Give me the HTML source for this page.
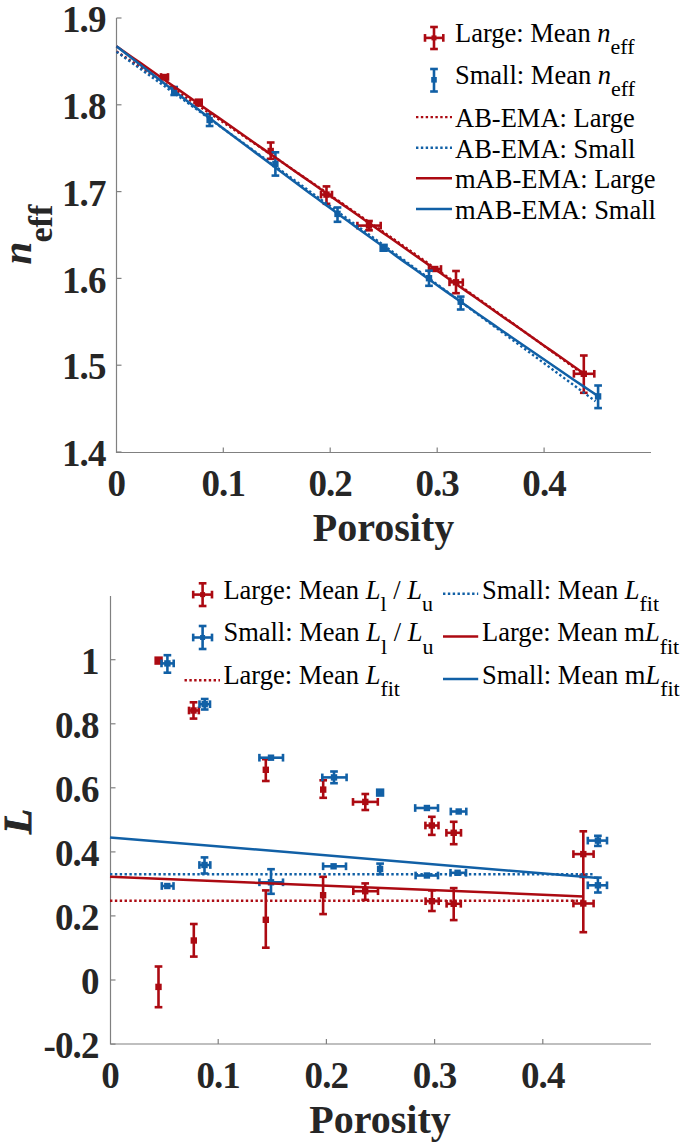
<!DOCTYPE html><html><head><meta charset="utf-8"><style>html,body{margin:0;padding:0;background:#fff;overflow:hidden}svg{display:block}text{font-family:"Liberation Serif",serif}</style></head><body>
<svg width="685" height="1145" viewBox="0 0 685 1145">
<rect width="685" height="1145" fill="#fff"/>
<g stroke="#808080" stroke-width="1.2" fill="none">
<path d="M116.5 18 V452.5 H651"/>
<line x1="116.5" y1="18.0" x2="121.5" y2="18.0"/>
<line x1="116.5" y1="104.8" x2="121.5" y2="104.8"/>
<line x1="116.5" y1="191.6" x2="121.5" y2="191.6"/>
<line x1="116.5" y1="278.4" x2="121.5" y2="278.4"/>
<line x1="116.5" y1="365.2" x2="121.5" y2="365.2"/>
<line x1="116.5" y1="452.0" x2="121.5" y2="452.0"/>
<line x1="223.3" y1="452.5" x2="223.3" y2="447.5"/>
<line x1="330.2" y1="452.5" x2="330.2" y2="447.5"/>
<line x1="437.2" y1="452.5" x2="437.2" y2="447.5"/>
<line x1="544.1" y1="452.5" x2="544.1" y2="447.5"/>
</g>
<g font-size="37" font-weight="bold" fill="#262626" text-anchor="end" letter-spacing="-0.9">
<text x="105.5" y="32.1">1.9</text>
<text x="105.5" y="118.9">1.8</text>
<text x="105.5" y="205.7">1.7</text>
<text x="105.5" y="292.5">1.6</text>
<text x="105.5" y="379.3">1.5</text>
<text x="105.5" y="466.1">1.4</text>
</g>
<g font-size="37" font-weight="bold" fill="#262626" text-anchor="middle" letter-spacing="-0.9">
<text x="116.4" y="496">0</text>
<text x="223.3" y="496">0.1</text>
<text x="330.2" y="496">0.2</text>
<text x="437.2" y="496">0.3</text>
<text x="544.1" y="496">0.4</text>
</g>
<text x="383.5" y="541" font-size="40" font-weight="bold" fill="#262626" text-anchor="middle">Porosity</text>
<g transform="translate(31,264.5) rotate(-90)" fill="#262626" font-weight="bold"><text x="0" y="0" font-size="41" font-style="italic">n</text><text x="22" y="20.5" font-size="34">eff</text></g>
<g stroke="#AC0A12" stroke-width="2.6" fill="none"><line x1="161" y1="77" x2="168" y2="77"/><line x1="161" y1="73.15" x2="161" y2="80.85"/><line x1="168" y1="73.15" x2="168" y2="80.85"/></g>
<rect x="161.20000000000002" y="73.8" width="6.4" height="6.4" fill="#AC0A12"/>
<g stroke="#AC0A12" stroke-width="2.6" fill="none"></g>
<rect x="194.60000000000002" y="98.39999999999999" width="8.4" height="8.4" fill="#AC0A12"/>
<g stroke="#AC0A12" stroke-width="2.6" fill="none"><line x1="270.7" y1="142.5" x2="270.7" y2="158.8"/><line x1="266.84999999999997" y1="142.5" x2="274.55" y2="142.5"/><line x1="266.84999999999997" y1="158.8" x2="274.55" y2="158.8"/></g>
<rect x="267.5" y="147.8" width="6.4" height="6.4" fill="#AC0A12"/>
<g stroke="#AC0A12" stroke-width="2.6" fill="none"><line x1="326.5" y1="186.4" x2="326.5" y2="203.8"/><line x1="322.65" y1="186.4" x2="330.35" y2="186.4"/><line x1="322.65" y1="203.8" x2="330.35" y2="203.8"/><line x1="321" y1="194.6" x2="332" y2="194.6"/><line x1="321" y1="190.75" x2="321" y2="198.45"/><line x1="332" y1="190.75" x2="332" y2="198.45"/></g>
<rect x="323.3" y="191.4" width="6.4" height="6.4" fill="#AC0A12"/>
<g stroke="#AC0A12" stroke-width="2.6" fill="none"><line x1="369" y1="221" x2="369" y2="230.3"/><line x1="365.15" y1="221" x2="372.85" y2="221"/><line x1="365.15" y1="230.3" x2="372.85" y2="230.3"/><line x1="357.4" y1="225.6" x2="380.7" y2="225.6"/><line x1="357.4" y1="221.75" x2="357.4" y2="229.45"/><line x1="380.7" y1="221.75" x2="380.7" y2="229.45"/></g>
<rect x="365.8" y="222.4" width="6.4" height="6.4" fill="#AC0A12"/>
<g stroke="#AC0A12" stroke-width="2.6" fill="none"><line x1="429" y1="269" x2="441" y2="269"/><line x1="429" y1="265.15" x2="429" y2="272.85"/><line x1="441" y1="265.15" x2="441" y2="272.85"/></g>
<rect x="432.0" y="265.8" width="6.4" height="6.4" fill="#AC0A12"/>
<g stroke="#AC0A12" stroke-width="2.6" fill="none"><line x1="456" y1="271" x2="456" y2="293.2"/><line x1="452.15" y1="271" x2="459.85" y2="271"/><line x1="452.15" y1="293.2" x2="459.85" y2="293.2"/><line x1="449.5" y1="282.3" x2="462.8" y2="282.3"/><line x1="449.5" y1="278.45" x2="449.5" y2="286.15000000000003"/><line x1="462.8" y1="278.45" x2="462.8" y2="286.15000000000003"/></g>
<rect x="452.8" y="279.1" width="6.4" height="6.4" fill="#AC0A12"/>
<g stroke="#AC0A12" stroke-width="2.6" fill="none"><line x1="583.8" y1="355.5" x2="583.8" y2="392.8"/><line x1="579.9499999999999" y1="355.5" x2="587.65" y2="355.5"/><line x1="579.9499999999999" y1="392.8" x2="587.65" y2="392.8"/><line x1="573.9" y1="373.8" x2="594.3" y2="373.8"/><line x1="573.9" y1="369.95" x2="573.9" y2="377.65000000000003"/><line x1="594.3" y1="369.95" x2="594.3" y2="377.65000000000003"/></g>
<rect x="580.5999999999999" y="370.6" width="6.4" height="6.4" fill="#AC0A12"/>
<g stroke="#1160A6" stroke-width="2.6" fill="none"><line x1="174.2" y1="87" x2="174.2" y2="95"/><line x1="170.35" y1="87" x2="178.04999999999998" y2="87"/><line x1="170.35" y1="95" x2="178.04999999999998" y2="95"/></g>
<rect x="171.0" y="88.1" width="6.4" height="6.4" fill="#1160A6"/>
<g stroke="#1160A6" stroke-width="2.6" fill="none"><line x1="209.6" y1="114" x2="209.6" y2="126"/><line x1="205.75" y1="114" x2="213.45" y2="114"/><line x1="205.75" y1="126" x2="213.45" y2="126"/></g>
<rect x="206.4" y="116.8" width="6.4" height="6.4" fill="#1160A6"/>
<g stroke="#1160A6" stroke-width="2.6" fill="none"><line x1="275.4" y1="152.3" x2="275.4" y2="175.6"/><line x1="271.54999999999995" y1="152.3" x2="279.25" y2="152.3"/><line x1="271.54999999999995" y1="175.6" x2="279.25" y2="175.6"/></g>
<rect x="272.2" y="160.8" width="6.4" height="6.4" fill="#1160A6"/>
<g stroke="#1160A6" stroke-width="2.6" fill="none"><line x1="337.5" y1="207.5" x2="337.5" y2="221.8"/><line x1="333.65" y1="207.5" x2="341.35" y2="207.5"/><line x1="333.65" y1="221.8" x2="341.35" y2="221.8"/></g>
<rect x="334.3" y="210.70000000000002" width="6.4" height="6.4" fill="#1160A6"/>
<g stroke="#1160A6" stroke-width="2.6" fill="none"></g>
<rect x="379.40000000000003" y="243.60000000000002" width="8.4" height="8.4" fill="#1160A6"/>
<g stroke="#1160A6" stroke-width="2.6" fill="none"><line x1="429" y1="270.7" x2="429" y2="285.8"/><line x1="425.15" y1="270.7" x2="432.85" y2="270.7"/><line x1="425.15" y1="285.8" x2="432.85" y2="285.8"/></g>
<rect x="425.8" y="275.0" width="6.4" height="6.4" fill="#1160A6"/>
<g stroke="#1160A6" stroke-width="2.6" fill="none"><line x1="460.7" y1="296.6" x2="460.7" y2="309.5"/><line x1="456.84999999999997" y1="296.6" x2="464.55" y2="296.6"/><line x1="456.84999999999997" y1="309.5" x2="464.55" y2="309.5"/></g>
<rect x="457.5" y="298.5" width="6.4" height="6.4" fill="#1160A6"/>
<g stroke="#1160A6" stroke-width="2.6" fill="none"><line x1="598.1" y1="385.5" x2="598.1" y2="408.1"/><line x1="594.25" y1="385.5" x2="601.95" y2="385.5"/><line x1="594.25" y1="408.1" x2="601.95" y2="408.1"/></g>
<rect x="594.9" y="393.2" width="6.4" height="6.4" fill="#1160A6"/>
<polyline points="116.50,51.42 124.29,56.53 132.08,61.66 139.87,66.79 147.65,71.94 155.44,77.09 163.23,82.25 171.02,87.42 178.81,92.60 186.59,97.79 194.38,102.99 202.17,108.20 209.96,113.41 217.75,118.64 225.54,123.88 233.32,129.12 241.11,134.38 248.90,139.64 256.69,144.91 264.48,150.19 272.27,155.48 280.05,160.78 287.84,166.09 295.63,171.41 303.42,176.74 311.21,182.07 319.00,187.42 326.78,192.77 334.57,198.14 342.36,203.51 350.15,208.89 357.94,214.28 365.73,219.69 373.51,225.10 381.30,230.51 389.09,235.94 396.88,241.38 404.67,246.83 412.46,252.28 420.24,257.75 428.03,263.22 435.82,268.71 443.61,274.20 451.40,279.70 459.19,285.21 466.97,290.73 474.76,296.26 482.55,301.80 490.34,307.35 498.13,312.90 505.92,318.47 513.70,324.05 521.49,329.63 529.28,335.22 537.07,340.83 544.86,346.44 552.65,352.06 560.43,357.69 568.22,363.33 576.01,368.98 583.80,374.64" fill="none" stroke="#AC0A12" stroke-width="2.4" stroke-dasharray="2.4 2.45"/>
<polyline points="116.50,51.72 124.48,57.44 132.47,63.18 140.45,68.91 148.43,74.65 156.42,80.39 164.40,86.14 172.38,91.88 180.37,97.64 188.35,103.39 196.33,109.15 204.32,114.91 212.30,120.68 220.28,126.44 228.27,132.22 236.25,137.99 244.23,143.77 252.22,149.55 260.20,155.34 268.18,161.12 276.17,166.92 284.15,172.71 292.13,178.51 300.12,184.31 308.10,190.12 316.08,195.92 324.07,201.74 332.05,207.55 340.03,213.37 348.02,219.19 356.00,225.02 363.98,230.84 371.97,236.68 379.95,242.51 387.93,248.35 395.92,254.19 403.90,260.04 411.88,265.88 419.87,271.74 427.85,277.59 435.83,283.45 443.82,289.31 451.80,295.18 459.78,301.04 467.77,306.92 475.75,312.79 483.73,318.67 491.72,324.55 499.70,330.44 507.68,336.32 515.67,342.22 523.65,348.11 531.63,354.01 539.62,359.91 547.60,365.82 555.58,371.72 563.57,377.64 571.55,383.55 579.53,389.47 587.52,395.39 595.50,401.31" fill="none" stroke="#1160A6" stroke-width="2.4" stroke-dasharray="2.4 2.45"/>
<polyline points="116.50,46.25 124.29,51.70 132.08,57.16 139.87,62.61 147.65,68.06 155.44,73.51 163.23,78.97 171.02,84.42 178.81,89.87 186.59,95.33 194.38,100.78 202.17,106.23 209.96,111.69 217.75,117.14 225.54,122.59 233.32,128.04 241.11,133.50 248.90,138.95 256.69,144.40 264.48,149.86 272.27,155.31 280.05,160.76 287.84,166.22 295.63,171.67 303.42,177.12 311.21,182.57 319.00,188.03 326.78,193.48 334.57,198.93 342.36,204.39 350.15,209.84 357.94,215.29 365.73,220.75 373.51,226.20 381.30,231.65 389.09,237.10 396.88,242.56 404.67,248.01 412.46,253.46 420.24,258.92 428.03,264.37 435.82,269.82 443.61,275.28 451.40,280.73 459.19,286.18 466.97,291.63 474.76,297.09 482.55,302.54 490.34,307.99 498.13,313.45 505.92,318.90 513.70,324.35 521.49,329.81 529.28,335.26 537.07,340.71 544.86,346.16 552.65,351.62 560.43,357.07 568.22,362.52 576.01,367.98 583.80,373.43" fill="none" stroke="#AC0A12" stroke-width="2.5"/>
<polyline points="116.50,46.31 124.53,52.58 132.55,58.83 140.58,65.07 148.61,71.29 156.63,77.50 164.66,83.69 172.69,89.87 180.71,96.04 188.74,102.19 196.77,108.32 204.79,114.44 212.82,120.54 220.85,126.63 228.87,132.71 236.90,138.77 244.93,144.81 252.95,150.85 260.98,156.86 269.01,162.86 277.03,168.85 285.06,174.82 293.09,180.78 301.11,186.72 309.14,192.64 317.17,198.56 325.19,204.45 333.22,210.34 341.25,216.20 349.27,222.06 357.30,227.89 365.33,233.72 373.35,239.53 381.38,245.32 389.41,251.10 397.43,256.86 405.46,262.61 413.49,268.35 421.51,274.06 429.54,279.77 437.57,285.46 445.59,291.13 453.62,296.79 461.65,302.44 469.67,308.07 477.70,313.69 485.73,319.29 493.75,324.87 501.78,330.44 509.81,336.00 517.83,341.54 525.86,347.07 533.89,352.58 541.91,358.08 549.94,363.56 557.97,369.03 565.99,374.48 574.02,379.92 582.05,385.34 590.07,390.75 598.10,396.14" fill="none" stroke="#1160A6" stroke-width="2.5"/>
<g stroke="#AC0A12" stroke-width="2.6" fill="none"><line x1="434" y1="27" x2="434" y2="49"/><line x1="430.15" y1="27" x2="437.85" y2="27"/><line x1="430.15" y1="49" x2="437.85" y2="49"/><line x1="425" y1="37.9" x2="443.3" y2="37.9"/><line x1="425" y1="34.05" x2="425" y2="41.75"/><line x1="443.3" y1="34.05" x2="443.3" y2="41.75"/></g>
<rect x="431.5" y="35.4" width="5.0" height="5.0" fill="#AC0A12"/>
<g stroke="#1160A6" stroke-width="2.6" fill="none"><line x1="434" y1="69" x2="434" y2="91.5"/><line x1="430.15" y1="69" x2="437.85" y2="69"/><line x1="430.15" y1="91.5" x2="437.85" y2="91.5"/></g>
<rect x="431.2" y="77.0" width="5.6" height="5.6" fill="#1160A6"/>
<g font-size="26.5" fill="#000">
<text x="455" y="41.5">Large: Mean <tspan font-style="italic">n</tspan><tspan font-size="22" dy="12.5">eff</tspan></text>
<text x="455" y="83.5">Small: Mean <tspan font-style="italic">n</tspan><tspan font-size="22" dy="12.5">eff</tspan></text>
<text x="455" y="126.9">AB-EMA: Large</text>
<text x="455" y="157.5">AB-EMA: Small</text>
<text x="455" y="188.1">mAB-EMA: Large</text>
<text x="455" y="218.7">mAB-EMA: Small</text>
</g>
<line x1="416" y1="117.1" x2="452" y2="117.1" stroke="#AC0A12" stroke-width="2.4" stroke-dasharray="2.4 2.45"/>
<line x1="416" y1="147.7" x2="452" y2="147.7" stroke="#1160A6" stroke-width="2.4" stroke-dasharray="2.4 2.45"/>
<line x1="416" y1="178.3" x2="452" y2="178.3" stroke="#AC0A12" stroke-width="2.5"/>
<line x1="416" y1="208.9" x2="452" y2="208.9" stroke="#1160A6" stroke-width="2.5"/>
<g stroke="#808080" stroke-width="1.2" fill="none">
<path d="M110.5 596 V1044 H651"/>
<line x1="110.5" y1="659.7" x2="115.5" y2="659.7"/>
<line x1="110.5" y1="723.8" x2="115.5" y2="723.8"/>
<line x1="110.5" y1="787.8" x2="115.5" y2="787.8"/>
<line x1="110.5" y1="851.9" x2="115.5" y2="851.9"/>
<line x1="110.5" y1="915.9" x2="115.5" y2="915.9"/>
<line x1="110.5" y1="980.0" x2="115.5" y2="980.0"/>
<line x1="110.5" y1="1044.1" x2="115.5" y2="1044.1"/>
<line x1="218.2" y1="1044" x2="218.2" y2="1039"/>
<line x1="326.4" y1="1044" x2="326.4" y2="1039"/>
<line x1="434.6" y1="1044" x2="434.6" y2="1039"/>
<line x1="542.8" y1="1044" x2="542.8" y2="1039"/>
</g>
<g font-size="37" font-weight="bold" fill="#262626" text-anchor="end" letter-spacing="-0.9">
<text x="98.5" y="673.5">1</text>
<text x="98.5" y="737.6">0.8</text>
<text x="98.5" y="801.6">0.6</text>
<text x="98.5" y="865.7">0.4</text>
<text x="98.5" y="929.7">0.2</text>
<text x="98.5" y="993.8">0</text>
<text x="98.5" y="1057.9">-0.2</text>
</g>
<g font-size="37" font-weight="bold" fill="#262626" text-anchor="middle" letter-spacing="-0.9">
<text x="110.0" y="1088">0</text>
<text x="218.2" y="1088">0.1</text>
<text x="326.4" y="1088">0.2</text>
<text x="434.6" y="1088">0.3</text>
<text x="542.8" y="1088">0.4</text>
</g>
<text x="380" y="1132.5" font-size="40" font-weight="bold" fill="#262626" text-anchor="middle">Porosity</text>
<g transform="translate(31,834) rotate(-90)" fill="#262626" font-weight="bold"><text x="0" y="0" font-size="41" font-style="italic" stroke="#262626" stroke-width="0.9">L</text></g>
<g stroke="#AC0A12" stroke-width="2.6" fill="none"></g>
<rect x="154.4" y="656.4" width="8.4" height="8.4" fill="#AC0A12"/>
<g stroke="#AC0A12" stroke-width="2.6" fill="none"><line x1="193.5" y1="702.3" x2="193.5" y2="718.6"/><line x1="189.65" y1="702.3" x2="197.35" y2="702.3"/><line x1="189.65" y1="718.6" x2="197.35" y2="718.6"/><line x1="189" y1="710.5" x2="198.8" y2="710.5"/><line x1="189" y1="706.65" x2="189" y2="714.35"/><line x1="198.8" y1="706.65" x2="198.8" y2="714.35"/></g>
<rect x="190.3" y="707.3" width="6.4" height="6.4" fill="#AC0A12"/>
<g stroke="#AC0A12" stroke-width="2.6" fill="none"><line x1="265.8" y1="759.2" x2="265.8" y2="781"/><line x1="261.95" y1="759.2" x2="269.65000000000003" y2="759.2"/><line x1="261.95" y1="781" x2="269.65000000000003" y2="781"/></g>
<rect x="262.6" y="766.5999999999999" width="6.4" height="6.4" fill="#AC0A12"/>
<g stroke="#AC0A12" stroke-width="2.6" fill="none"><line x1="323.2" y1="780.3" x2="323.2" y2="797.8"/><line x1="319.34999999999997" y1="780.3" x2="327.05" y2="780.3"/><line x1="319.34999999999997" y1="797.8" x2="327.05" y2="797.8"/></g>
<rect x="320.0" y="786.4" width="6.4" height="6.4" fill="#AC0A12"/>
<g stroke="#AC0A12" stroke-width="2.6" fill="none"><line x1="365.3" y1="794" x2="365.3" y2="810"/><line x1="361.45" y1="794" x2="369.15000000000003" y2="794"/><line x1="361.45" y1="810" x2="369.15000000000003" y2="810"/><line x1="353" y1="801.9" x2="377.8" y2="801.9"/><line x1="353" y1="798.05" x2="353" y2="805.75"/><line x1="377.8" y1="798.05" x2="377.8" y2="805.75"/></g>
<rect x="362.1" y="798.6999999999999" width="6.4" height="6.4" fill="#AC0A12"/>
<g stroke="#AC0A12" stroke-width="2.6" fill="none"><line x1="431.8" y1="816.8" x2="431.8" y2="834.9"/><line x1="427.95" y1="816.8" x2="435.65000000000003" y2="816.8"/><line x1="427.95" y1="834.9" x2="435.65000000000003" y2="834.9"/><line x1="425.4" y1="825.5" x2="438.5" y2="825.5"/><line x1="425.4" y1="821.65" x2="425.4" y2="829.35"/><line x1="438.5" y1="821.65" x2="438.5" y2="829.35"/></g>
<rect x="428.6" y="822.3" width="6.4" height="6.4" fill="#AC0A12"/>
<g stroke="#AC0A12" stroke-width="2.6" fill="none"><line x1="453.7" y1="821.8" x2="453.7" y2="844.2"/><line x1="449.84999999999997" y1="821.8" x2="457.55" y2="821.8"/><line x1="449.84999999999997" y1="844.2" x2="457.55" y2="844.2"/><line x1="446.4" y1="832.8" x2="461" y2="832.8"/><line x1="446.4" y1="828.9499999999999" x2="446.4" y2="836.65"/><line x1="461" y1="828.9499999999999" x2="461" y2="836.65"/></g>
<rect x="450.5" y="829.5999999999999" width="6.4" height="6.4" fill="#AC0A12"/>
<g stroke="#AC0A12" stroke-width="2.6" fill="none"><line x1="583.3" y1="831.3" x2="583.3" y2="877"/><line x1="579.4499999999999" y1="831.3" x2="587.15" y2="831.3"/><line x1="579.4499999999999" y1="877" x2="587.15" y2="877"/><line x1="573.4" y1="854.1" x2="593.6" y2="854.1"/><line x1="573.4" y1="850.25" x2="573.4" y2="857.95"/><line x1="593.6" y1="850.25" x2="593.6" y2="857.95"/></g>
<rect x="580.0999999999999" y="850.9" width="6.4" height="6.4" fill="#AC0A12"/>
<g stroke="#AC0A12" stroke-width="2.6" fill="none"><line x1="158.5" y1="966.5" x2="158.5" y2="1007.2"/><line x1="154.65" y1="966.5" x2="162.35" y2="966.5"/><line x1="154.65" y1="1007.2" x2="162.35" y2="1007.2"/></g>
<rect x="155.3" y="983.6999999999999" width="6.4" height="6.4" fill="#AC0A12"/>
<g stroke="#AC0A12" stroke-width="2.6" fill="none"><line x1="193.8" y1="924" x2="193.8" y2="956.6"/><line x1="189.95000000000002" y1="924" x2="197.65" y2="924"/><line x1="189.95000000000002" y1="956.6" x2="197.65" y2="956.6"/></g>
<rect x="190.60000000000002" y="937.3" width="6.4" height="6.4" fill="#AC0A12"/>
<g stroke="#AC0A12" stroke-width="2.6" fill="none"><line x1="265.8" y1="890.4" x2="265.8" y2="947.7"/><line x1="261.95" y1="890.4" x2="269.65000000000003" y2="890.4"/><line x1="261.95" y1="947.7" x2="269.65000000000003" y2="947.7"/></g>
<rect x="262.6" y="916.5999999999999" width="6.4" height="6.4" fill="#AC0A12"/>
<g stroke="#AC0A12" stroke-width="2.6" fill="none"><line x1="323.1" y1="876.8" x2="323.1" y2="914.1"/><line x1="319.25" y1="876.8" x2="326.95000000000005" y2="876.8"/><line x1="319.25" y1="914.1" x2="326.95000000000005" y2="914.1"/></g>
<rect x="319.90000000000003" y="892.0" width="6.4" height="6.4" fill="#AC0A12"/>
<g stroke="#AC0A12" stroke-width="2.6" fill="none"><line x1="365.2" y1="883.4" x2="365.2" y2="899.9"/><line x1="361.34999999999997" y1="883.4" x2="369.05" y2="883.4"/><line x1="361.34999999999997" y1="899.9" x2="369.05" y2="899.9"/><line x1="353.3" y1="891.2" x2="378" y2="891.2"/><line x1="353.3" y1="887.35" x2="353.3" y2="895.0500000000001"/><line x1="378" y1="887.35" x2="378" y2="895.0500000000001"/></g>
<rect x="362.0" y="888.0" width="6.4" height="6.4" fill="#AC0A12"/>
<g stroke="#AC0A12" stroke-width="2.6" fill="none"><line x1="431.9" y1="890.4" x2="431.9" y2="911"/><line x1="428.04999999999995" y1="890.4" x2="435.75" y2="890.4"/><line x1="428.04999999999995" y1="911" x2="435.75" y2="911"/><line x1="425.6" y1="901.2" x2="438.7" y2="901.2"/><line x1="425.6" y1="897.35" x2="425.6" y2="905.0500000000001"/><line x1="438.7" y1="897.35" x2="438.7" y2="905.0500000000001"/></g>
<rect x="428.7" y="898.0" width="6.4" height="6.4" fill="#AC0A12"/>
<g stroke="#AC0A12" stroke-width="2.6" fill="none"><line x1="453.7" y1="888.1" x2="453.7" y2="920.1"/><line x1="449.84999999999997" y1="888.1" x2="457.55" y2="888.1"/><line x1="449.84999999999997" y1="920.1" x2="457.55" y2="920.1"/><line x1="446.6" y1="903.8" x2="460.8" y2="903.8"/><line x1="446.6" y1="899.9499999999999" x2="446.6" y2="907.65"/><line x1="460.8" y1="899.9499999999999" x2="460.8" y2="907.65"/></g>
<rect x="450.5" y="900.5999999999999" width="6.4" height="6.4" fill="#AC0A12"/>
<g stroke="#AC0A12" stroke-width="2.6" fill="none"><line x1="583.3" y1="875" x2="583.3" y2="932.2"/><line x1="579.4499999999999" y1="875" x2="587.15" y2="875"/><line x1="579.4499999999999" y1="932.2" x2="587.15" y2="932.2"/><line x1="573.4" y1="903.5" x2="593.6" y2="903.5"/><line x1="573.4" y1="899.65" x2="573.4" y2="907.35"/><line x1="593.6" y1="899.65" x2="593.6" y2="907.35"/></g>
<rect x="580.0999999999999" y="900.3" width="6.4" height="6.4" fill="#AC0A12"/>
<g stroke="#1160A6" stroke-width="2.6" fill="none"><line x1="167.4" y1="655.2" x2="167.4" y2="672.7"/><line x1="163.55" y1="655.2" x2="171.25" y2="655.2"/><line x1="163.55" y1="672.7" x2="171.25" y2="672.7"/><line x1="161.5" y1="663.4" x2="173.7" y2="663.4"/><line x1="161.5" y1="659.55" x2="161.5" y2="667.25"/><line x1="173.7" y1="659.55" x2="173.7" y2="667.25"/></g>
<rect x="164.20000000000002" y="660.1999999999999" width="6.4" height="6.4" fill="#1160A6"/>
<g stroke="#1160A6" stroke-width="2.6" fill="none"><line x1="204.7" y1="699" x2="204.7" y2="709.5"/><line x1="200.85" y1="699" x2="208.54999999999998" y2="699"/><line x1="200.85" y1="709.5" x2="208.54999999999998" y2="709.5"/><line x1="199.5" y1="704.2" x2="210" y2="704.2"/><line x1="199.5" y1="700.35" x2="199.5" y2="708.0500000000001"/><line x1="210" y1="700.35" x2="210" y2="708.0500000000001"/></g>
<rect x="201.5" y="701.0" width="6.4" height="6.4" fill="#1160A6"/>
<g stroke="#1160A6" stroke-width="2.6" fill="none"><line x1="259.4" y1="757.7" x2="283" y2="757.7"/><line x1="259.4" y1="753.85" x2="259.4" y2="761.5500000000001"/><line x1="283" y1="753.85" x2="283" y2="761.5500000000001"/></g>
<rect x="267.8" y="754.5" width="6.4" height="6.4" fill="#1160A6"/>
<g stroke="#1160A6" stroke-width="2.6" fill="none"><line x1="334" y1="771.5" x2="334" y2="783.2"/><line x1="330.15" y1="771.5" x2="337.85" y2="771.5"/><line x1="330.15" y1="783.2" x2="337.85" y2="783.2"/><line x1="322.3" y1="777.4" x2="346.6" y2="777.4"/><line x1="322.3" y1="773.55" x2="322.3" y2="781.25"/><line x1="346.6" y1="773.55" x2="346.6" y2="781.25"/></g>
<rect x="330.8" y="774.1999999999999" width="6.4" height="6.4" fill="#1160A6"/>
<g stroke="#1160A6" stroke-width="2.6" fill="none"></g>
<rect x="375.90000000000003" y="788.4" width="8.4" height="8.4" fill="#1160A6"/>
<g stroke="#1160A6" stroke-width="2.6" fill="none"><line x1="415.2" y1="808" x2="438" y2="808"/><line x1="415.2" y1="804.15" x2="415.2" y2="811.85"/><line x1="438" y1="804.15" x2="438" y2="811.85"/></g>
<rect x="423.7" y="804.8" width="6.4" height="6.4" fill="#1160A6"/>
<g stroke="#1160A6" stroke-width="2.6" fill="none"><line x1="450.8" y1="811.5" x2="466.3" y2="811.5"/><line x1="450.8" y1="807.65" x2="450.8" y2="815.35"/><line x1="466.3" y1="807.65" x2="466.3" y2="815.35"/></g>
<rect x="455.5" y="808.3" width="6.4" height="6.4" fill="#1160A6"/>
<g stroke="#1160A6" stroke-width="2.6" fill="none"><line x1="597.9" y1="835.8" x2="597.9" y2="845.9"/><line x1="594.05" y1="835.8" x2="601.75" y2="835.8"/><line x1="594.05" y1="845.9" x2="601.75" y2="845.9"/><line x1="587.8" y1="840.6" x2="607" y2="840.6"/><line x1="587.8" y1="836.75" x2="587.8" y2="844.45"/><line x1="607" y1="836.75" x2="607" y2="844.45"/></g>
<rect x="594.6999999999999" y="837.4" width="6.4" height="6.4" fill="#1160A6"/>
<g stroke="#1160A6" stroke-width="2.6" fill="none"><line x1="161.8" y1="886" x2="173.5" y2="886"/><line x1="161.8" y1="882.15" x2="161.8" y2="889.85"/><line x1="173.5" y1="882.15" x2="173.5" y2="889.85"/></g>
<rect x="164.10000000000002" y="882.8" width="6.4" height="6.4" fill="#1160A6"/>
<g stroke="#1160A6" stroke-width="2.6" fill="none"><line x1="204.5" y1="857.4" x2="204.5" y2="873.5"/><line x1="200.65" y1="857.4" x2="208.35" y2="857.4"/><line x1="200.65" y1="873.5" x2="208.35" y2="873.5"/><line x1="199.4" y1="865" x2="210.3" y2="865"/><line x1="199.4" y1="861.15" x2="199.4" y2="868.85"/><line x1="210.3" y1="861.15" x2="210.3" y2="868.85"/></g>
<rect x="201.3" y="861.8" width="6.4" height="6.4" fill="#1160A6"/>
<g stroke="#1160A6" stroke-width="2.6" fill="none"><line x1="271" y1="869.2" x2="271" y2="893.8"/><line x1="267.15" y1="869.2" x2="274.85" y2="869.2"/><line x1="267.15" y1="893.8" x2="274.85" y2="893.8"/><line x1="259.4" y1="882.3" x2="283" y2="882.3"/><line x1="259.4" y1="878.4499999999999" x2="259.4" y2="886.15"/><line x1="283" y1="878.4499999999999" x2="283" y2="886.15"/></g>
<rect x="267.8" y="879.0999999999999" width="6.4" height="6.4" fill="#1160A6"/>
<g stroke="#1160A6" stroke-width="2.6" fill="none"><line x1="323.1" y1="866.3" x2="346" y2="866.3"/><line x1="323.1" y1="862.4499999999999" x2="323.1" y2="870.15"/><line x1="346" y1="862.4499999999999" x2="346" y2="870.15"/></g>
<rect x="330.40000000000003" y="863.0999999999999" width="6.4" height="6.4" fill="#1160A6"/>
<g stroke="#1160A6" stroke-width="2.6" fill="none"><line x1="380.1" y1="863.6" x2="380.1" y2="874.2"/><line x1="376.25" y1="863.6" x2="383.95000000000005" y2="863.6"/><line x1="376.25" y1="874.2" x2="383.95000000000005" y2="874.2"/></g>
<rect x="376.90000000000003" y="865.6999999999999" width="6.4" height="6.4" fill="#1160A6"/>
<g stroke="#1160A6" stroke-width="2.6" fill="none"><line x1="415.6" y1="875.5" x2="438" y2="875.5"/><line x1="415.6" y1="871.65" x2="415.6" y2="879.35"/><line x1="438" y1="871.65" x2="438" y2="879.35"/></g>
<rect x="423.7" y="872.3" width="6.4" height="6.4" fill="#1160A6"/>
<g stroke="#1160A6" stroke-width="2.6" fill="none"><line x1="450.5" y1="872.8" x2="466" y2="872.8"/><line x1="450.5" y1="868.9499999999999" x2="450.5" y2="876.65"/><line x1="466" y1="868.9499999999999" x2="466" y2="876.65"/></g>
<rect x="454.40000000000003" y="869.5999999999999" width="6.4" height="6.4" fill="#1160A6"/>
<g stroke="#1160A6" stroke-width="2.6" fill="none"><line x1="597.9" y1="877.6" x2="597.9" y2="892.5"/><line x1="594.05" y1="877.6" x2="601.75" y2="877.6"/><line x1="594.05" y1="892.5" x2="601.75" y2="892.5"/><line x1="587.8" y1="885.3" x2="607" y2="885.3"/><line x1="587.8" y1="881.4499999999999" x2="587.8" y2="889.15"/><line x1="607" y1="881.4499999999999" x2="607" y2="889.15"/></g>
<rect x="594.6999999999999" y="882.0999999999999" width="6.4" height="6.4" fill="#1160A6"/>
<line x1="110" y1="900.7" x2="583.3" y2="900.7" stroke="#AC0A12" stroke-width="2.4" stroke-dasharray="2.4 2.45"/>
<line x1="110" y1="874.2" x2="595.0" y2="874.2" stroke="#1160A6" stroke-width="2.4" stroke-dasharray="2.4 2.45"/>
<line x1="110" y1="876.8" x2="583.3" y2="896.4" stroke="#AC0A12" stroke-width="2.5"/>
<line x1="110" y1="837.4" x2="598.4" y2="878.0" stroke="#1160A6" stroke-width="2.5"/>
<g stroke="#AC0A12" stroke-width="2.6" fill="none"><line x1="202.6" y1="583.3" x2="202.6" y2="606"/><line x1="198.75" y1="583.3" x2="206.45" y2="583.3"/><line x1="198.75" y1="606" x2="206.45" y2="606"/><line x1="193.2" y1="594.6" x2="212" y2="594.6"/><line x1="193.2" y1="590.75" x2="193.2" y2="598.45"/><line x1="212" y1="590.75" x2="212" y2="598.45"/></g>
<rect x="200.1" y="592.1" width="5.0" height="5.0" fill="#AC0A12"/>
<g stroke="#1160A6" stroke-width="2.6" fill="none"><line x1="202.6" y1="626" x2="202.6" y2="649"/><line x1="198.75" y1="626" x2="206.45" y2="626"/><line x1="198.75" y1="649" x2="206.45" y2="649"/><line x1="193.2" y1="637.5" x2="212" y2="637.5"/><line x1="193.2" y1="633.65" x2="193.2" y2="641.35"/><line x1="212" y1="633.65" x2="212" y2="641.35"/></g>
<rect x="200.1" y="635.0" width="5.0" height="5.0" fill="#1160A6"/>
<line x1="184.5" y1="680.2" x2="220" y2="680.2" stroke="#AC0A12" stroke-width="2.4" stroke-dasharray="2.4 2.45"/>
<line x1="443" y1="593.7" x2="478.2" y2="593.7" stroke="#1160A6" stroke-width="2.4" stroke-dasharray="2.4 2.45"/>
<line x1="443" y1="636.6" x2="478.2" y2="636.6" stroke="#AC0A12" stroke-width="2.5"/>
<line x1="443" y1="679" x2="478.2" y2="679" stroke="#1160A6" stroke-width="2.5"/>
<g font-size="26.5" fill="#000">
<text x="223.4" y="598.5">Large: Mean <tspan font-style="italic">L</tspan><tspan font-size="22" dy="12.5">l</tspan><tspan dy="-12.5"> / </tspan><tspan font-style="italic">L</tspan><tspan font-size="22" dy="12.5">u</tspan></text>
<text x="223.4" y="641">Small: Mean <tspan font-style="italic">L</tspan><tspan font-size="22" dy="12.5">l</tspan><tspan dy="-12.5"> / </tspan><tspan font-style="italic">L</tspan><tspan font-size="22" dy="12.5">u</tspan></text>
<text x="223.4" y="683.5">Large: Mean <tspan font-style="italic">L</tspan><tspan font-size="22" dy="12.5">fit</tspan></text>
<text x="482" y="598.5">Small: Mean <tspan font-style="italic">L</tspan><tspan font-size="22" dy="12.5">fit</tspan></text>
<text x="482" y="641">Large: Mean m<tspan font-style="italic">L</tspan><tspan font-size="22" dy="12.5">fit</tspan></text>
<text x="482" y="683.5">Small: Mean m<tspan font-style="italic">L</tspan><tspan font-size="22" dy="12.5">fit</tspan></text>
</g>
</svg></body></html>
